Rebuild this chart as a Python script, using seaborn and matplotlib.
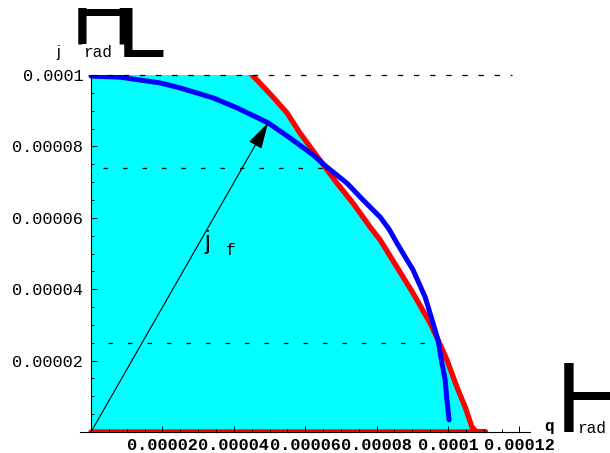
import matplotlib
matplotlib.use("Agg")
import matplotlib.pyplot as plt
import seaborn as sns
import pandas as pd
from matplotlib.ticker import MultipleLocator
from matplotlib.transforms import Bbox
from matplotlib.patches import ArrowStyle

sns.set_theme(style="white")
plt.rcParams['font.family'] = ['Liberation Mono', 'DejaVu Sans']
plt.rcParams['text.color'] = 'black'
plt.rcParams['xtick.labelcolor'] = 'black'
plt.rcParams['ytick.labelcolor'] = 'black'

SCALE = 1e-5  # all curve values below are in units of 1e-5 rad

# outer boundary of the accessible region (red), traced from the top edge down,
# then back along the q axis
red_q = [4.42, 4.51, 4.65, 5.10, 5.49, 5.85, 6.41, 6.89, 7.34, 7.82, 8.10, 8.57,
         9.02, 9.50, 9.72, 9.97, 10.25, 10.48, 10.67, 10.80, 11.05, 0.0]
red_j = [10.2, 10.0, 9.86, 9.38, 8.94, 8.38, 7.62, 6.97, 6.41, 5.74, 5.38, 4.62,
         3.89, 3.05, 2.58, 2.02, 1.26, 0.70, 0.14, 0.0, 0.0, 0.0]

# computed trajectory (blue)
blue_q = [0.0, 0.81, 1.37, 1.93, 2.49, 3.42, 4.09, 4.96, 5.57, 6.22, 6.61, 7.17,
          7.62, 8.10, 8.35, 8.57, 9.02, 9.36, 9.58, 9.72, 9.83, 9.92, 9.97, 10.03]
blue_j = [9.97, 9.94, 9.86, 9.78, 9.64, 9.36, 9.08, 8.66, 8.24, 7.76, 7.42, 6.97,
          6.50, 6.02, 5.68, 5.29, 4.54, 3.78, 3.05, 2.58, 1.93, 1.46, 0.90, 0.34]

# dashed reference levels: level, start, end
dash_level = [10.0, 7.4, 2.5]
dash_start = [0.0, 0.34, 0.48]
dash_end = [11.8, 6.6, 9.4]

# arrow from the origin to the point on the blue curve
arrow_tip = (4.96, 8.66)

x_ticks = [2, 4, 6, 8, 10, 12]
x_labels = ['0.00002', '0.00004', '0.00006', '0.00008', '0.0001', '0.00012']
y_ticks = [2, 4, 6, 8, 10]
y_labels = ['0.00002', '0.00004', '0.00006', '0.00008', '0.0001']

W, H = 610, 453
fig = plt.figure(figsize=(W / 100, H / 100), dpi=100)
fig.patch.set_facecolor('white')
ax = fig.add_axes([80 / W, 21 / H, 450 / W, 357 / H])
ax.set_facecolor('white')


def fpos(x, y):
    return x / W, 1 - y / H


red = pd.DataFrame({'q': [v * SCALE for v in red_q], 'j': [v * SCALE for v in red_j]})
blue = pd.DataFrame({'q': [v * SCALE for v in blue_q], 'j': [v * SCALE for v in blue_j]})

# filled region under the red boundary
fill_q = red['q'].iloc[:-2].tolist() + [0.0, 0.0]
fill_j = red['j'].iloc[:-2].tolist() + [0.0, red['j'].iloc[0]]
ax.fill(fill_q, fill_j, color='#00FFFF', lw=0, zorder=1)

sns.lineplot(data=red, x='q', y='j', sort=False, estimator=None, color='#FF0000',
             lw=3.8, ax=ax, zorder=2)
sns.lineplot(data=blue, x='q', y='j', sort=False, estimator=None, color='#0000FF',
             lw=3.6, ax=ax, zorder=2.1, solid_capstyle='round', solid_joinstyle='round')
ax.set_xlabel('')
ax.set_ylabel('')

for lev, a, b in zip(dash_level, dash_start, dash_end):
    pattern = (0, (4.3, 8.6)) if lev == 10.0 else (0, (3.6, 12.0))
    ax.plot([a * SCALE, b * SCALE], [lev * SCALE, lev * SCALE], color='black',
            lw=0.9, linestyle=pattern, zorder=2.2, clip_on=False)

ax.annotate('', xy=(arrow_tip[0] * SCALE, arrow_tip[1] * SCALE), xytext=(0, 0),
            arrowprops=dict(arrowstyle=ArrowStyle('-|>', head_length=1.65, head_width=0.45),
                            mutation_scale=10, lw=0.8, color='black',
                            shrinkA=0, shrinkB=0),
            zorder=3)

ax.set_xlim(-11 / 35.7 * SCALE, 439 / 35.7 * SCALE)
ax.set_ylim(0, 10 * SCALE)

ax.set_xticks([t * SCALE for t in x_ticks], labels=x_labels)
ax.set_yticks([t * SCALE for t in y_ticks], labels=y_labels)
ax.xaxis.set_minor_locator(MultipleLocator(0.5 * SCALE))
ax.yaxis.set_minor_locator(MultipleLocator(0.5 * SCALE))
ax.tick_params(which='both', direction='in', color='black', width=0.7,
               bottom=True, left=True)
ax.tick_params(which='major', length=4)
ax.tick_params(which='minor', length=2.5)
ax.tick_params(axis='x', which='major', pad=4, labelsize=12.2)
ax.tick_params(axis='y', which='major', pad=5.5, labelsize=12.2)
for lab in ax.get_xticklabels() + ax.get_yticklabels():
    lab.set_fontweight('bold')
    lab.set_color('black')

for side in ('top', 'right'):
    ax.spines[side].set_visible(False)
ax.spines['left'].set_position(('data', 0))
for side in ('left', 'bottom'):
    ax.spines[side].set_color('black')
    ax.spines[side].set_linewidth(0.8)
    ax.spines[side].set_zorder(2.6)
ax.set_axisbelow(False)
ax.grid(False)

# label of the arrow
fig.text(*fpos(205, 249), 'j', fontsize=18, family='Liberation Sans', va='baseline',
         color='black')
fig.text(*fpos(226, 255), 'f', fontsize=11.6, family='Liberation Mono', va='baseline',
         color='black')

# vertical axis label
clip_top = Bbox.from_extents(0, H - 57, W, H - 8)
for ch, x, base in (('H', 71, 43.5), ('L', 117, 57)):
    t = fig.text(*fpos(x, base), ch, fontsize=64, family='Liberation Sans',
                 va='baseline', ha='left', color='black')
    t.set_clip_box(clip_top)
    t.set_clip_on(True)
fig.text(*fpos(56, 57), 'j', fontsize=11.6, family='Liberation Sans', va='baseline',
         color='black')
fig.text(*fpos(83, 57), 'rad', fontsize=11.6, family='Liberation Mono', va='baseline',
         color='black', bbox=dict(facecolor='white', edgecolor='none', pad=0.5))

# horizontal axis label
fig.text(*fpos(556, 432), 'H', fontsize=72, family='Liberation Sans', va='baseline',
         ha='left', color='black')
fig.text(*fpos(544, 431), 'q', fontsize=11.6, family='Liberation Mono',
         fontweight='bold', va='baseline', color='black')
fig.text(*fpos(577, 433), 'rad', fontsize=11.6, family='Liberation Mono', va='baseline',
         color='black', bbox=dict(facecolor='white', edgecolor='none', pad=0.5))

fig.savefig('out.png', dpi=100, facecolor='white')
